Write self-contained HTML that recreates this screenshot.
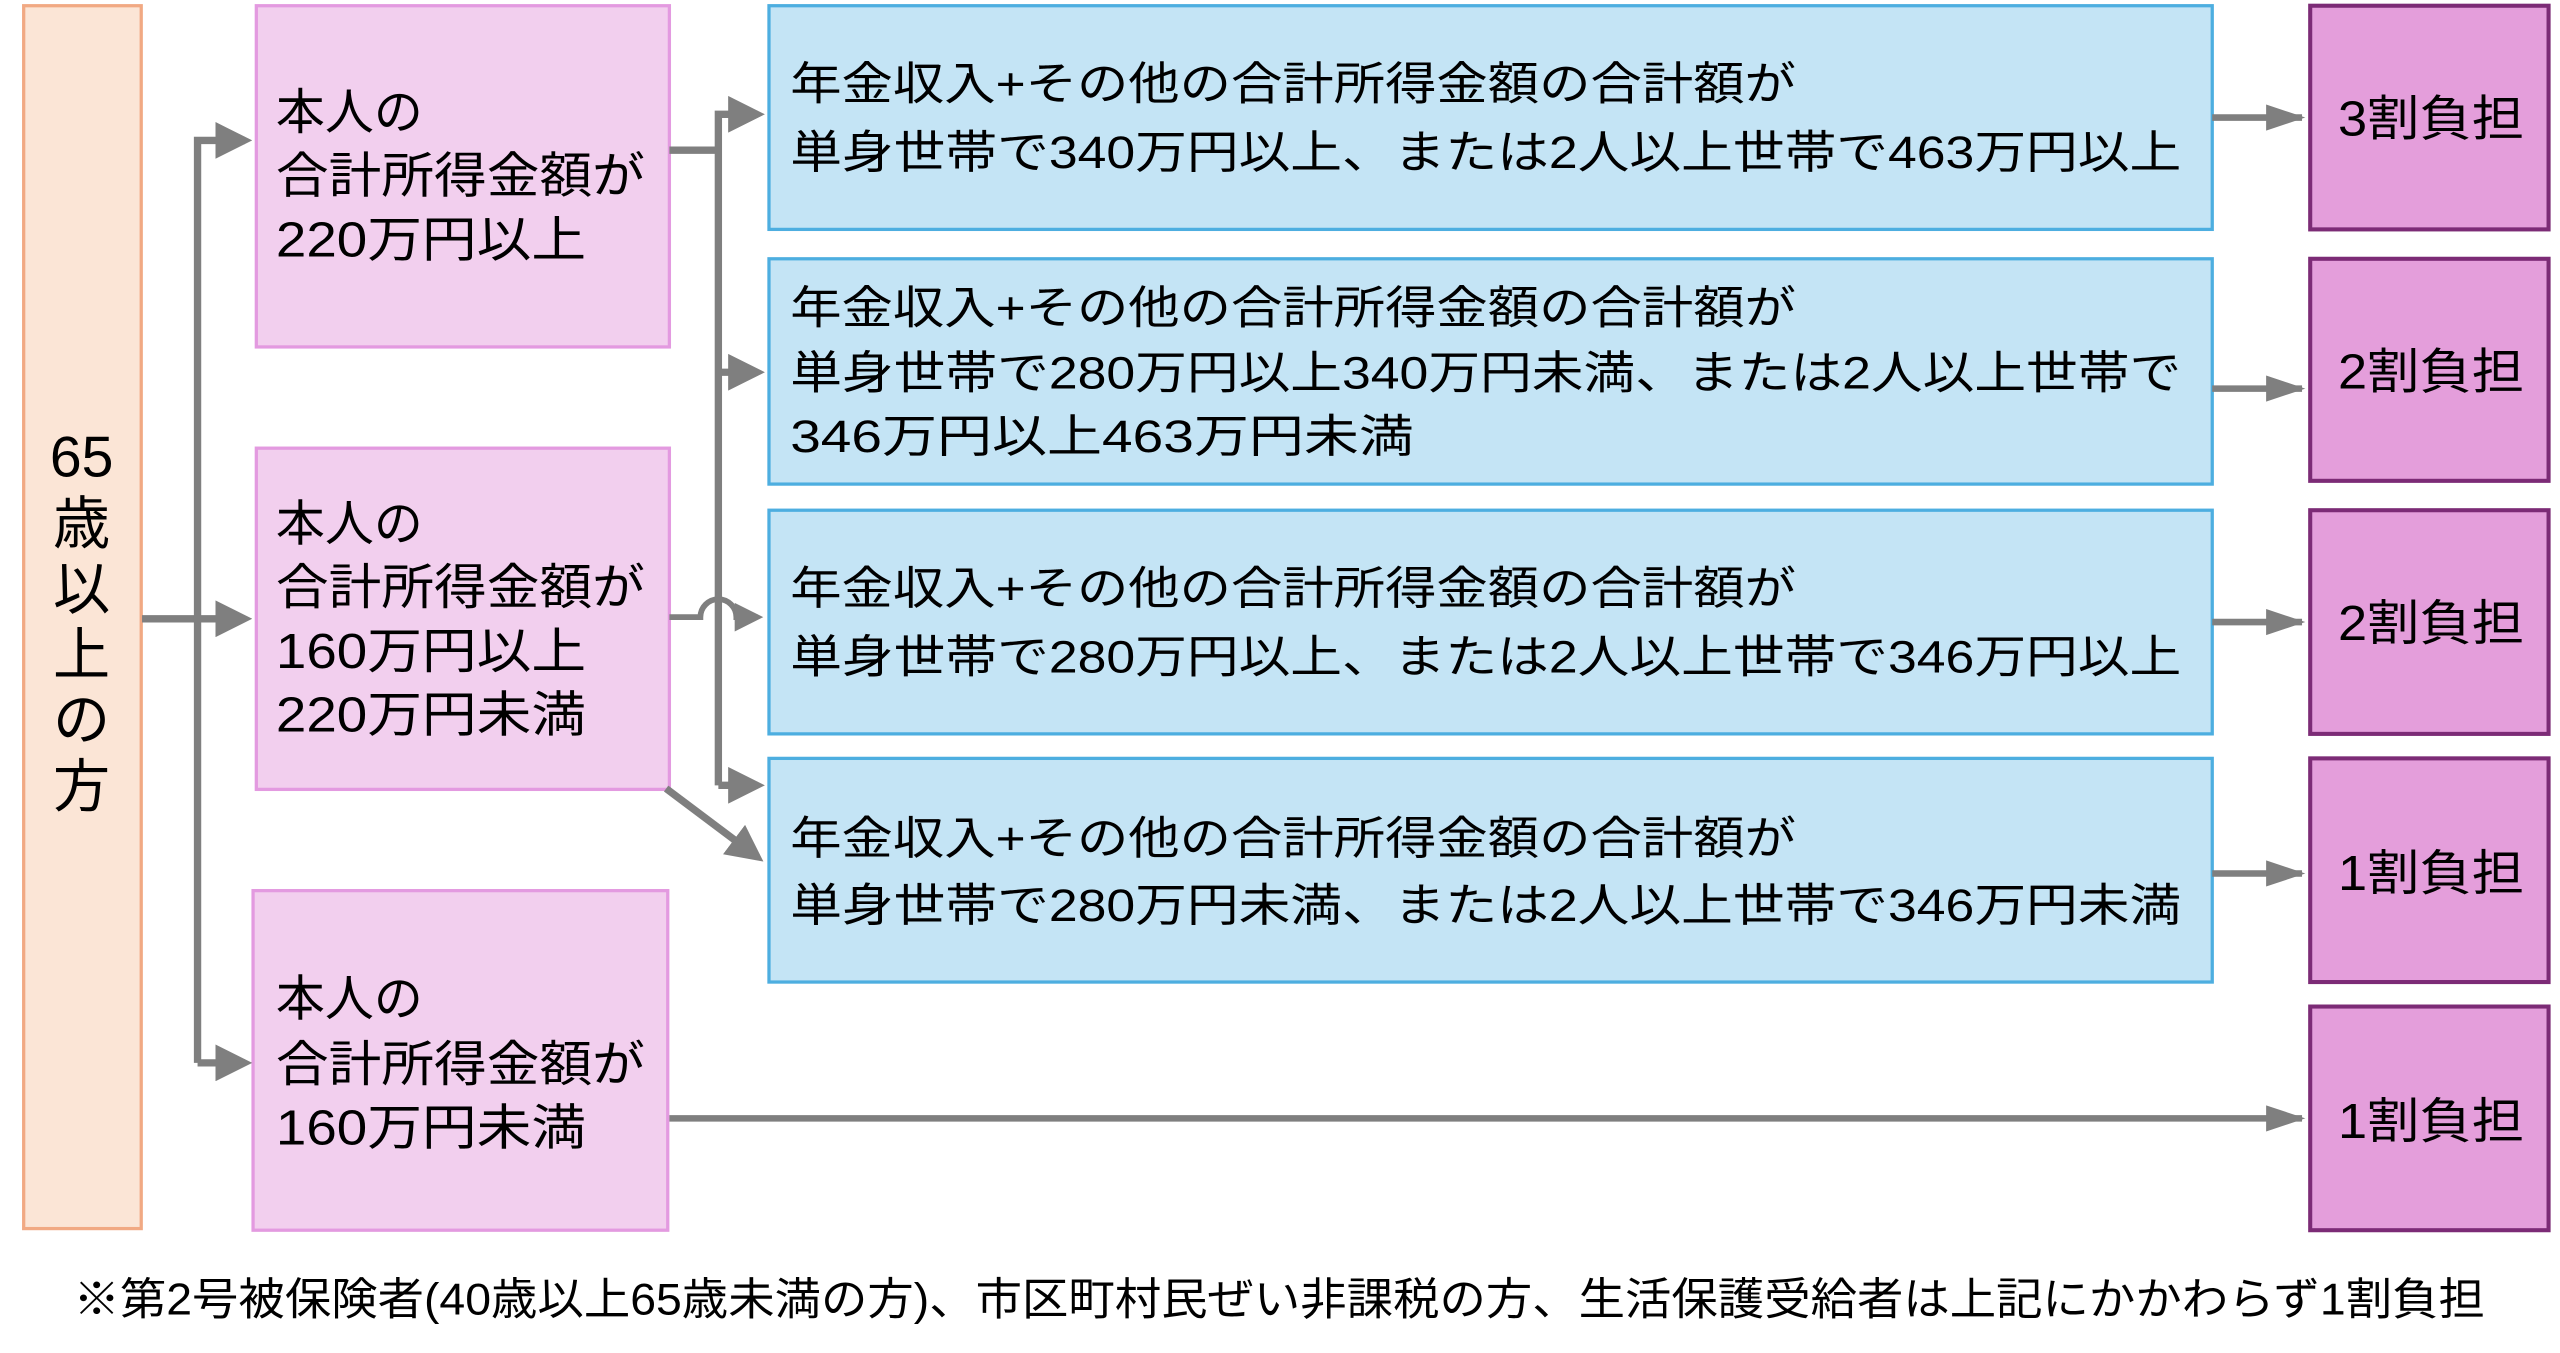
<!DOCTYPE html>
<html><head><meta charset="utf-8">
<style>
html,body{margin:0;padding:0;background:#fff;}
svg{display:block;}
text{font-family:"Liberation Sans","Noto Sans CJK JP",sans-serif;fill:#000;}
</style></head>
<body>
<svg width="2560" height="1353" viewBox="0 0 1568 828.7" xmlns="http://www.w3.org/2000/svg">
<defs>
<marker id="a" markerWidth="5" markerHeight="5" refX="4" refY="2.5" orient="auto" markerUnits="strokeWidth">
<path d="M0,0 L5,2.5 L0,5 z" fill="#7f7f7f"/>
</marker>
<marker id="b" markerWidth="6" markerHeight="5" refX="5.5" refY="2.5" orient="auto" markerUnits="strokeWidth">
<path d="M0,0.5 L6,2.5 L0,4.5 z" fill="#7f7f7f"/>
</marker>
</defs>
<rect width="1568" height="828.7" fill="#fff"/>
<rect x="14.5" y="3.5" width="72" height="749" fill="#fbe5d6" stroke="#f1a983" stroke-width="2"/>
<g font-size="35" text-anchor="middle">
<text x="50" y="292">65</text>
<text x="50" y="333">歳</text>
<text x="50" y="373">以</text>
<text x="50" y="413">上</text>
<text x="50" y="453">の</text>
<text x="50" y="494">方</text>
</g>
<g fill="#f2cfee" stroke="#e39ae0" stroke-width="2">
<rect x="157" y="3.5" width="253" height="209"/>
<rect x="157" y="274.5" width="253" height="209"/>
<rect x="155" y="545.5" width="254" height="208"/>
</g>
<g font-size="30">
<text x="169" y="79">本人の</text>
<text x="169" y="118" textLength="226" lengthAdjust="spacingAndGlyphs">合計所得金額が</text>
<text x="169" y="157" textLength="190" lengthAdjust="spacingAndGlyphs">220万円以上</text>
<text x="169" y="331">本人の</text>
<text x="169" y="370" textLength="226" lengthAdjust="spacingAndGlyphs">合計所得金額が</text>
<text x="169" y="409" textLength="190" lengthAdjust="spacingAndGlyphs">160万円以上</text>
<text x="169" y="448" textLength="190" lengthAdjust="spacingAndGlyphs">220万円未満</text>
<text x="169" y="622">本人の</text>
<text x="169" y="662" textLength="226" lengthAdjust="spacingAndGlyphs">合計所得金額が</text>
<text x="169" y="701" textLength="190" lengthAdjust="spacingAndGlyphs">160万円未満</text>
</g>
<g fill="#c4e4f5" stroke="#4daee0" stroke-width="2">
<rect x="471" y="3.5" width="884" height="137"/>
<rect x="471" y="158.5" width="884" height="138"/>
<rect x="471" y="312.5" width="884" height="137"/>
<rect x="471" y="464.5" width="884" height="137"/>
</g>
<g font-size="28">
<text x="484" y="61" textLength="616" lengthAdjust="spacingAndGlyphs">年金収入+その他の合計所得金額の合計額が</text>
<text x="484" y="103" textLength="852" lengthAdjust="spacingAndGlyphs">単身世帯で340万円以上、または2人以上世帯で463万円以上</text>
<text x="484" y="198" textLength="616" lengthAdjust="spacingAndGlyphs">年金収入+その他の合計所得金額の合計額が</text>
<text x="484" y="238" textLength="852" lengthAdjust="spacingAndGlyphs">単身世帯で280万円以上340万円未満、または2人以上世帯で</text>
<text x="484" y="277" textLength="382" lengthAdjust="spacingAndGlyphs">346万円以上463万円未満</text>
<text x="484" y="370" textLength="616" lengthAdjust="spacingAndGlyphs">年金収入+その他の合計所得金額の合計額が</text>
<text x="484" y="412" textLength="852" lengthAdjust="spacingAndGlyphs">単身世帯で280万円以上、または2人以上世帯で346万円以上</text>
<text x="484" y="523" textLength="616" lengthAdjust="spacingAndGlyphs">年金収入+その他の合計所得金額の合計額が</text>
<text x="484" y="564" textLength="852" lengthAdjust="spacingAndGlyphs">単身世帯で280万円未満、または2人以上世帯で346万円未満</text>
</g>
<g fill="#e49edb" stroke="#7c2b76" stroke-width="2.5">
<rect x="1415" y="3.5" width="146" height="137"/>
<rect x="1415" y="158.5" width="146" height="136"/>
<rect x="1415" y="312.5" width="146" height="137"/>
<rect x="1415" y="464.5" width="146" height="137"/>
<rect x="1415" y="616.5" width="146" height="137"/>
</g>
<g font-size="30" text-anchor="middle">
<text x="1489" y="83" textLength="114" lengthAdjust="spacingAndGlyphs">3割負担</text>
<text x="1489" y="238" textLength="114" lengthAdjust="spacingAndGlyphs">2割負担</text>
<text x="1489" y="392" textLength="114" lengthAdjust="spacingAndGlyphs">2割負担</text>
<text x="1489" y="545" textLength="114" lengthAdjust="spacingAndGlyphs">1割負担</text>
<text x="1489" y="697" textLength="114" lengthAdjust="spacingAndGlyphs">1割負担</text>
</g>
<g stroke="#7f7f7f" stroke-width="4.5" fill="none">
<path d="M87,379 H150" marker-end="url(#a)"/>
<path d="M121,651 V86 H150" marker-end="url(#a)"/>
<path d="M121,651 H150" marker-end="url(#a)"/>
<path d="M410,92 H440"/>
<path d="M440,481 V70 H464" marker-end="url(#a)"/>
<path d="M440,228 H464" marker-end="url(#a)"/>
<path d="M440,481 H464" marker-end="url(#a)"/>
<path d="M408,483 L464,525" marker-end="url(#a)"/>
</g>
<path d="M410,378 H429 A11,11 0 0 1 451,378 H464" stroke="#7f7f7f" stroke-width="3.5" fill="none" marker-end="url(#a)"/>
<g stroke="#7f7f7f" stroke-width="4" fill="none">
<path d="M1355,72 H1410" marker-end="url(#b)"/>
<path d="M1355,238 H1410" marker-end="url(#b)"/>
<path d="M1355,381 H1410" marker-end="url(#b)"/>
<path d="M1355,535 H1410" marker-end="url(#b)"/>
<path d="M410,685 H1410" marker-end="url(#b)"/>
</g>
<text x="45" y="805" font-size="27" textLength="1477" lengthAdjust="spacingAndGlyphs">※第2号被保険者(40歳以上65歳未満の方)、市区町村民ぜい非課税の方、生活保護受給者は上記にかかわらず1割負担</text>
</svg>
</body></html>
